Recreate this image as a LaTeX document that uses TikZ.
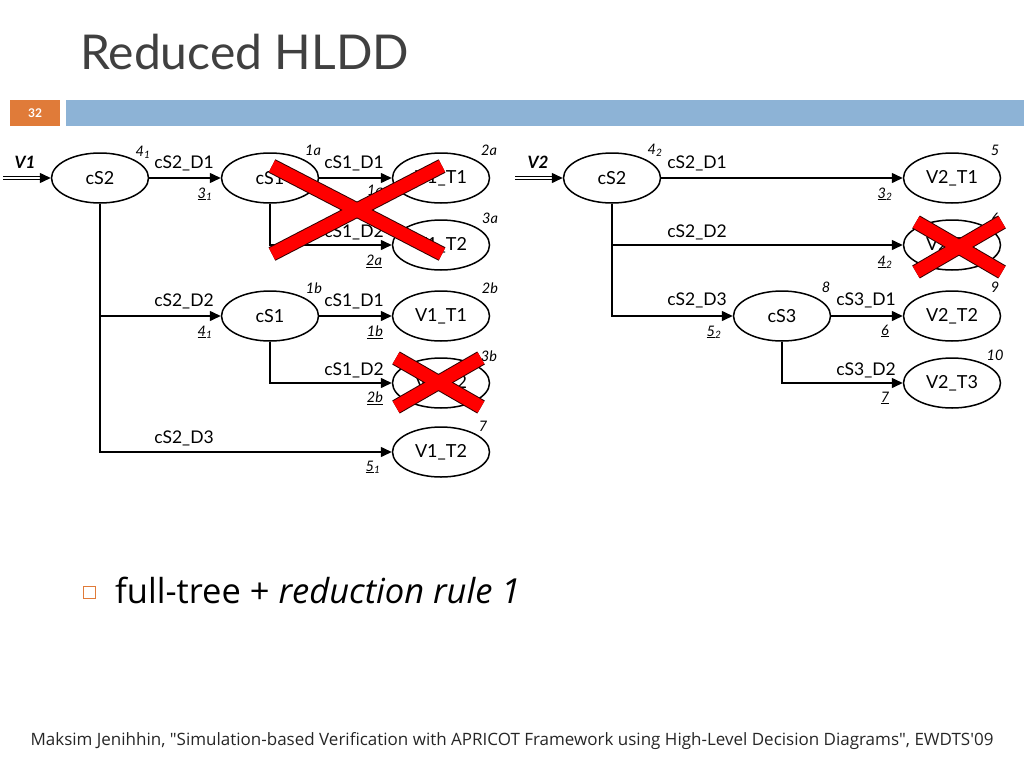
\documentclass[tikz,border=0pt]{standalone}
\usepackage{fontspec}
\setmainfont{Lato}
\newfontfamily\footfont{Open Sans}
\usetikzlibrary{shapes.geometric,arrows.meta}
\definecolor{slideorange}{HTML}{E07B39}
\definecolor{slideblue}{HTML}{8DB3D6}
\definecolor{titlegray}{HTML}{404040}
\definecolor{footgray}{HTML}{262626}
\tikzset{
  ell/.style={draw, ellipse, line width=1.5pt, minimum width=97pt, minimum height=50pt, inner sep=0pt, font=\fontsize{18}{20}\selectfont, fill=white},
  arr/.style={line width=1.5pt, -{Triangle[length=11pt,width=10pt]}},
  lbl/.style={font=\fontsize{17.5}{19}\selectfont, inner sep=0pt},
  num/.style={font=\fontsize{14.5}{16}\selectfont\itshape, inner sep=0pt},
  inlbl/.style={font=\fontsize{17}{19}\selectfont\bfseries\itshape, inner sep=0pt},
  dbl/.style={line width=0.8pt, double distance=2pt},
  crossblack/.style={line width=15pt, black!80!red},
  crossred/.style={line width=13pt, red}
}
\newcommand{\redcross}[4]{%
  \draw[crossblack] (#1) -- (#2); \draw[crossblack] (#3) -- (#4);
  \draw[crossred] (#1) -- (#2); \draw[crossred] (#3) -- (#4);}
\begin{document}
\begin{tikzpicture}[x=1pt,y=-1pt]
\useasboundingbox (0,0) rectangle (1024,768);
% header
\node[anchor=base west, text=titlegray, font=\fontsize{48}{52}\selectfont, inner sep=0pt] (title) at (80,69) {Reduced HLDD};
\fill[slideorange] (10,100) rectangle (60,126);
\node[text=white, font=\fontsize{12}{14}\selectfont\bfseries, inner sep=0pt] (pnum) at (35,113) {32};
\fill[slideblue] (66,100) rectangle (1024,126);

% ---------- left tree ----------
\node[ell] (L0) at (100,178) {cS2};
\node[ell] (La) at (270,178) {cS1};
\node[ell] (LaT1) at (441,178) {V1\_T1};
\node[ell] (LaT2) at (441,245) {V1\_T2};
\node[ell] (Lb) at (270,316) {cS1};
\node[ell] (LbT1) at (441,316) {V1\_T1};
\node[ell] (LbT2) at (441,383) {V1\_T2};
\node[ell] (LT2) at (441,452) {V1\_T2};

\coordinate (inL) at (3,178);
\coordinate (inLe) at (40,178);
\draw[dbl] (inL) -- (inLe);
\draw[arr] (inLe) -- (L0.west);
\node[inlbl] (V1) at (25,162) {V1};

\draw[arr] (L0.east) -- (La.west);
\draw[arr] (L0.south) |- (Lb.west);
\draw[arr] (L0.south) |- (LT2.west);
\draw[arr] (La.east) -- (LaT1.west);
\draw[arr] (La.south) |- (LaT2.west);
\draw[arr] (Lb.east) -- (LbT1.west);
\draw[arr] (Lb.south) |- (LbT2.west);

\node[num] (n1) at (143,152) {4\textsubscript{1}};
\node[lbl] (e1) at (184,163) {cS2\_D1};
\node[num] (u1) at (205,194) {\underline{3}\textsubscript{1}};
\node[num] (n2) at (313,150) {1a};
\node[lbl] (e2) at (354,163) {cS1\_D1};
\node[num] (u2) at (375,191) {\underline{1a}};
\node[num] (n3) at (489,150) {2a};
\node[lbl] (e3) at (354,232) {cS1\_D2};
\node[num] (u3) at (374,261) {\underline{2a}};
\node[num] (n4) at (490,218) {3a};
\node[lbl] (e4) at (184,301) {cS2\_D2};
\node[num] (u4) at (205,332) {\underline{4}\textsubscript{1}};
\node[num] (n5) at (314,288) {1b};
\node[lbl] (e5) at (354,301) {cS1\_D1};
\node[num] (u5) at (375,332) {\underline{1b}};
\node[num] (n6) at (490,288) {2b};
\node[lbl] (e6) at (354,370) {cS1\_D2};
\node[num] (u6) at (375,398) {\underline{2b}};
\node[num] (n7) at (489,356) {3b};
\node[lbl] (e7) at (184,438) {cS2\_D3};
\node[num] (u7) at (373,467) {\underline{5}\textsubscript{1}};
\node[num] (n8) at (483,426) {7};

% ---------- right tree ----------
\node[ell] (R0) at (612,178) {cS2};
\node[ell] (RT1) at (952,178) {V2\_T1};
\node[ell] (RT2x) at (952,245) {V2\_T2};
\node[ell] (R3) at (782,316) {cS3};
\node[ell] (RT2) at (952,316) {V2\_T2};
\node[ell] (RT3) at (952,383) {V2\_T3};

\coordinate (inR) at (515,178);
\coordinate (inRe) at (552,178);
\draw[dbl] (inR) -- (inRe);
\draw[arr] (inRe) -- (R0.west);
\node[inlbl] (V2) at (538,162) {V2};

\draw[arr] (R0.east) -- (RT1.west);
\draw[arr] (R0.south) |- (RT2x.west);
\draw[arr] (R0.south) |- (R3.west);
\draw[arr] (R3.east) -- (RT2.west);
\draw[arr] (R3.south) |- (RT3.west);

\node[num] (m1) at (655,150) {4\textsubscript{2}};
\node[lbl] (f1) at (697,163) {cS2\_D1};
\node[num] (v1) at (885,194) {\underline{3}\textsubscript{2}};
\node[num] (m2) at (995,150) {5};
\node[lbl] (f2) at (697,232) {cS2\_D2};
\node[num] (v2) at (885,262) {\underline{4}\textsubscript{2}};
\node[num] (m3) at (995,218) {6};
\node[lbl] (f3) at (697,300) {cS2\_D3};
\node[num] (v3) at (714,332) {\underline{5}\textsubscript{2}};
\node[num] (m4) at (826,287) {8};
\node[lbl] (f4) at (866,300) {cS3\_D1};
\node[num] (v4) at (885,331) {\underline{6}};
\node[num] (m5) at (995,287) {9};
\node[lbl] (f5) at (866,370) {cS3\_D2};
\node[num] (v5) at (885,398) {\underline{7}};
\node[num] (m6) at (995,355) {10};

% ---------- crosses ----------
\coordinate (xa1) at (272,166); \coordinate (xa2) at (442,254);
\coordinate (xa3) at (442,166); \coordinate (xa4) at (272,254);
\redcross{xa1}{xa2}{xa3}{xa4}
\coordinate (xb1) at (396,358); \coordinate (xb2) at (481,407);
\coordinate (xb3) at (481,358); \coordinate (xb4) at (396,407);
\redcross{xb1}{xb2}{xb3}{xb4}
\coordinate (xc1) at (916,222); \coordinate (xc2) at (1002,272);
\coordinate (xc3) at (1002,222); \coordinate (xc4) at (916,272);
\redcross{xc1}{xc2}{xc3}{xc4}

% ---------- bullet ----------
\draw[line width=1pt, slideorange] (83,586) rectangle (95,598);
\node[anchor=base west, font=\footfont\fontsize{34.5}{38}\selectfont, inner sep=0pt] (bul) at (115,603) {full-tree + \textit{reduction rule 1}};

% ---------- footer ----------
\node[text=footgray, font=\footfont\fontsize{17}{19}\selectfont, inner sep=0pt] (foot) at (512,741) {Maksim Jenihhin, "Simulation-based Verification with APRICOT Framework using High-Level Decision Diagrams", EWDTS'09};
\end{tikzpicture}
\end{document}
